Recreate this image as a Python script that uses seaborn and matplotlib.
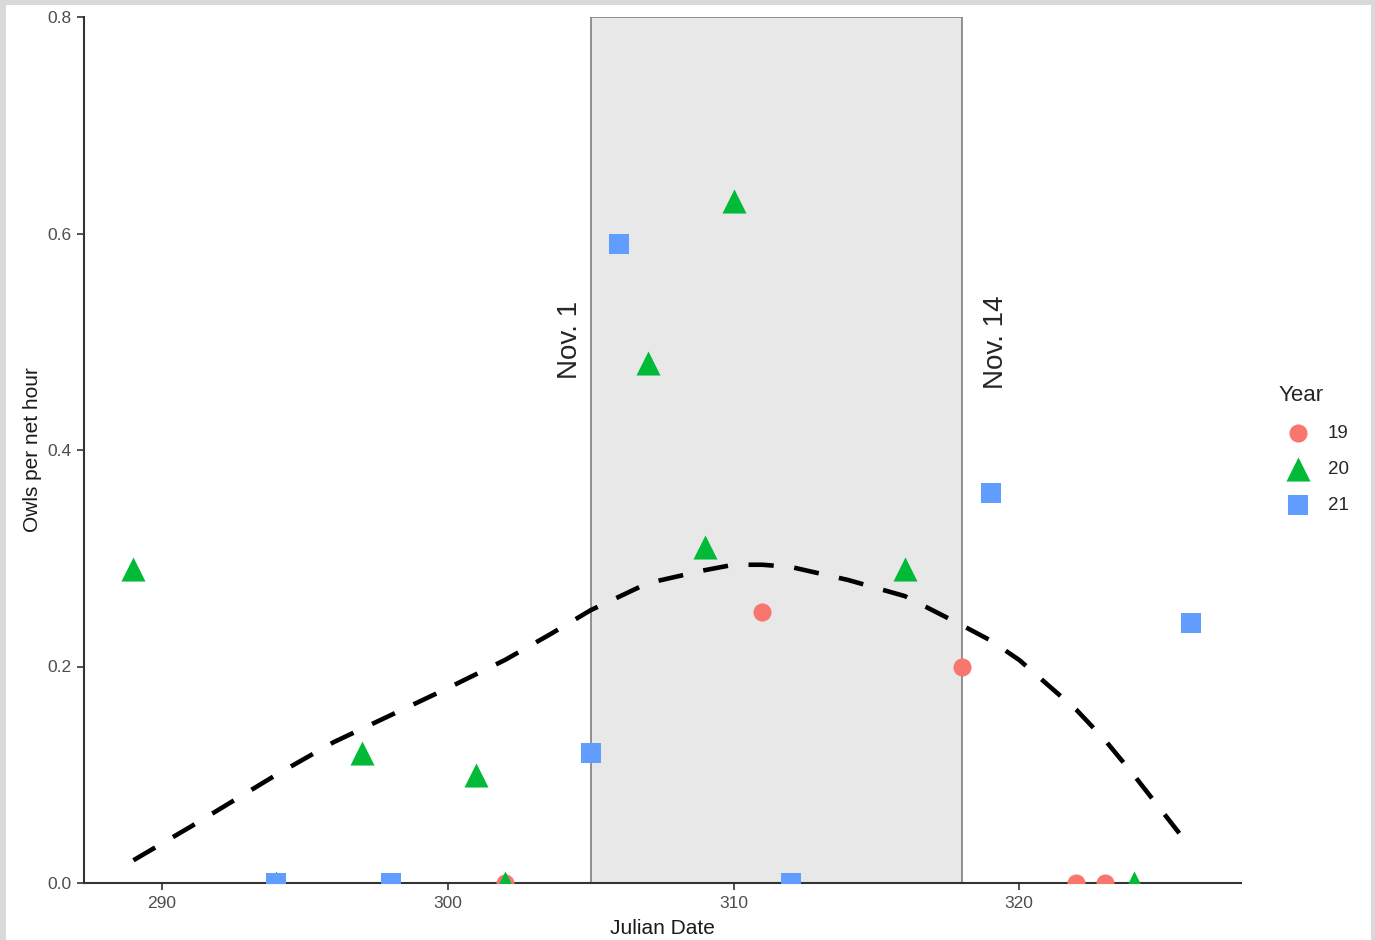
import matplotlib
matplotlib.use("Agg")
import matplotlib.pyplot as plt
import matplotlib.patches as mpatches
import pandas as pd
import seaborn as sns

# Owl capture rates
days_19 = [302, 311, 318, 322, 323]
rate_19 = [0.0, 0.25, 0.20, 0.0, 0.0]

days_20 = [289, 294, 297, 301, 302, 307, 309, 310, 316, 324]
rate_20 = [0.29, 0.0, 0.12, 0.10, 0.0, 0.48, 0.31, 0.63, 0.29, 0.0]

days_21 = [294, 298, 305, 306, 312, 319, 326]
rate_21 = [0.0, 0.0, 0.12, 0.59, 0.0, 0.36, 0.24]

# smoothed trend (dashed line)
smooth_x = [289, 291, 294, 296, 298, 300, 302, 303.6, 305, 307, 309, 310, 311,
            312, 314, 316, 318, 319, 320, 322, 323, 324, 325.6]
smooth_y = [0.021, 0.052, 0.10, 0.13, 0.155, 0.18, 0.206, 0.23, 0.252, 0.277,
            0.289, 0.294, 0.294, 0.292, 0.28, 0.265, 0.238, 0.224, 0.206, 0.16,
            0.132, 0.10, 0.046]

years = ["19", "20", "21"]
colors = ["#F8766D", "#00BA38", "#619CFF"]
markers = ["o", "^", "s"]
marker_sizes = [170, 300, 200]

sns.set_style("white")
plt.rcParams["font.family"] = ["Liberation Sans", "DejaVu Sans"]

fig = plt.figure(figsize=(13.75, 9.40), dpi=100)
fig.patch.set_facecolor("#d9d9d9")
fig.patches.append(mpatches.Rectangle((6 / 1375, 0), 1365 / 1375, 935 / 940,
                                      transform=fig.transFigure, facecolor="white",
                                      edgecolor="none", zorder=-10))
ax = fig.add_axes([84 / 1375, 57 / 940, 1157 / 1375, 866 / 940])
ax.patch.set_alpha(0)

# Nov. 1 - Nov. 14 window
ax.axvspan(305, 318, ymin=0, ymax=1, facecolor="#e8e8e8", edgecolor="#7f7f7f",
           linewidth=1.2, zorder=0)

series = [(days_19, rate_19), (days_20, rate_20), (days_21, rate_21)]
for (d, r), yr, col, mk, sz in zip(series, years, colors, markers, marker_sizes):
    sns.scatterplot(x=d, y=r, color=col, marker=mk, s=sz, linewidth=0,
                    label=yr, ax=ax, zorder=3)

trend = pd.DataFrame({"day": smooth_x, "rate": smooth_y})
sns.lineplot(data=trend, x="day", y="rate", color="black", linewidth=3.3,
             linestyle=(0, (5.5, 4.5)), sort=False, estimator=None, ax=ax, zorder=4)

ax.text(304.27, 0.502, "Nov. 1", rotation=90, ha="center", va="center", fontsize=20)
ax.text(319.2, 0.50, "Nov. 14", rotation=90, ha="center", va="center", fontsize=20)

ax.set_xlim(287.27, 327.76)
ax.set_ylim(0, 0.8)
ax.set_xticks([290, 300, 310, 320])
ax.set_yticks([0.0, 0.2, 0.4, 0.6, 0.8])
ax.set_yticklabels(["0.0", "0.2", "0.4", "0.6", "0.8"])
ax.set_xlabel("Julian Date", fontsize=15, color="#1a1a1a", labelpad=6)
ax.set_ylabel("Owls per net hour", fontsize=15, color="#1a1a1a", labelpad=4)
ax.tick_params(axis="both", direction="out", length=5, width=1.2, color="#333333",
               labelcolor="#4d4d4d", labelsize=12.5, pad=4, bottom=True, left=True)

sns.despine(ax=ax)
for side in ["left", "bottom"]:
    ax.spines[side].set_color("#333333")
    ax.spines[side].set_linewidth(1.5)

handles, labels = ax.get_legend_handles_labels()
ax.legend_.remove()
leg = fig.legend(handles[:3], labels[:3], title="Year", loc="upper left",
                 bbox_to_anchor=(1262 / 1375, 1 - 368 / 940), frameon=False,
                 fontsize=13.5, title_fontsize=16, handletextpad=0.6,
                 labelspacing=1.0, markerscale=1.0)
leg._legend_box.align = "left"

fig.savefig("out.png", dpi=100, facecolor=fig.get_facecolor())
